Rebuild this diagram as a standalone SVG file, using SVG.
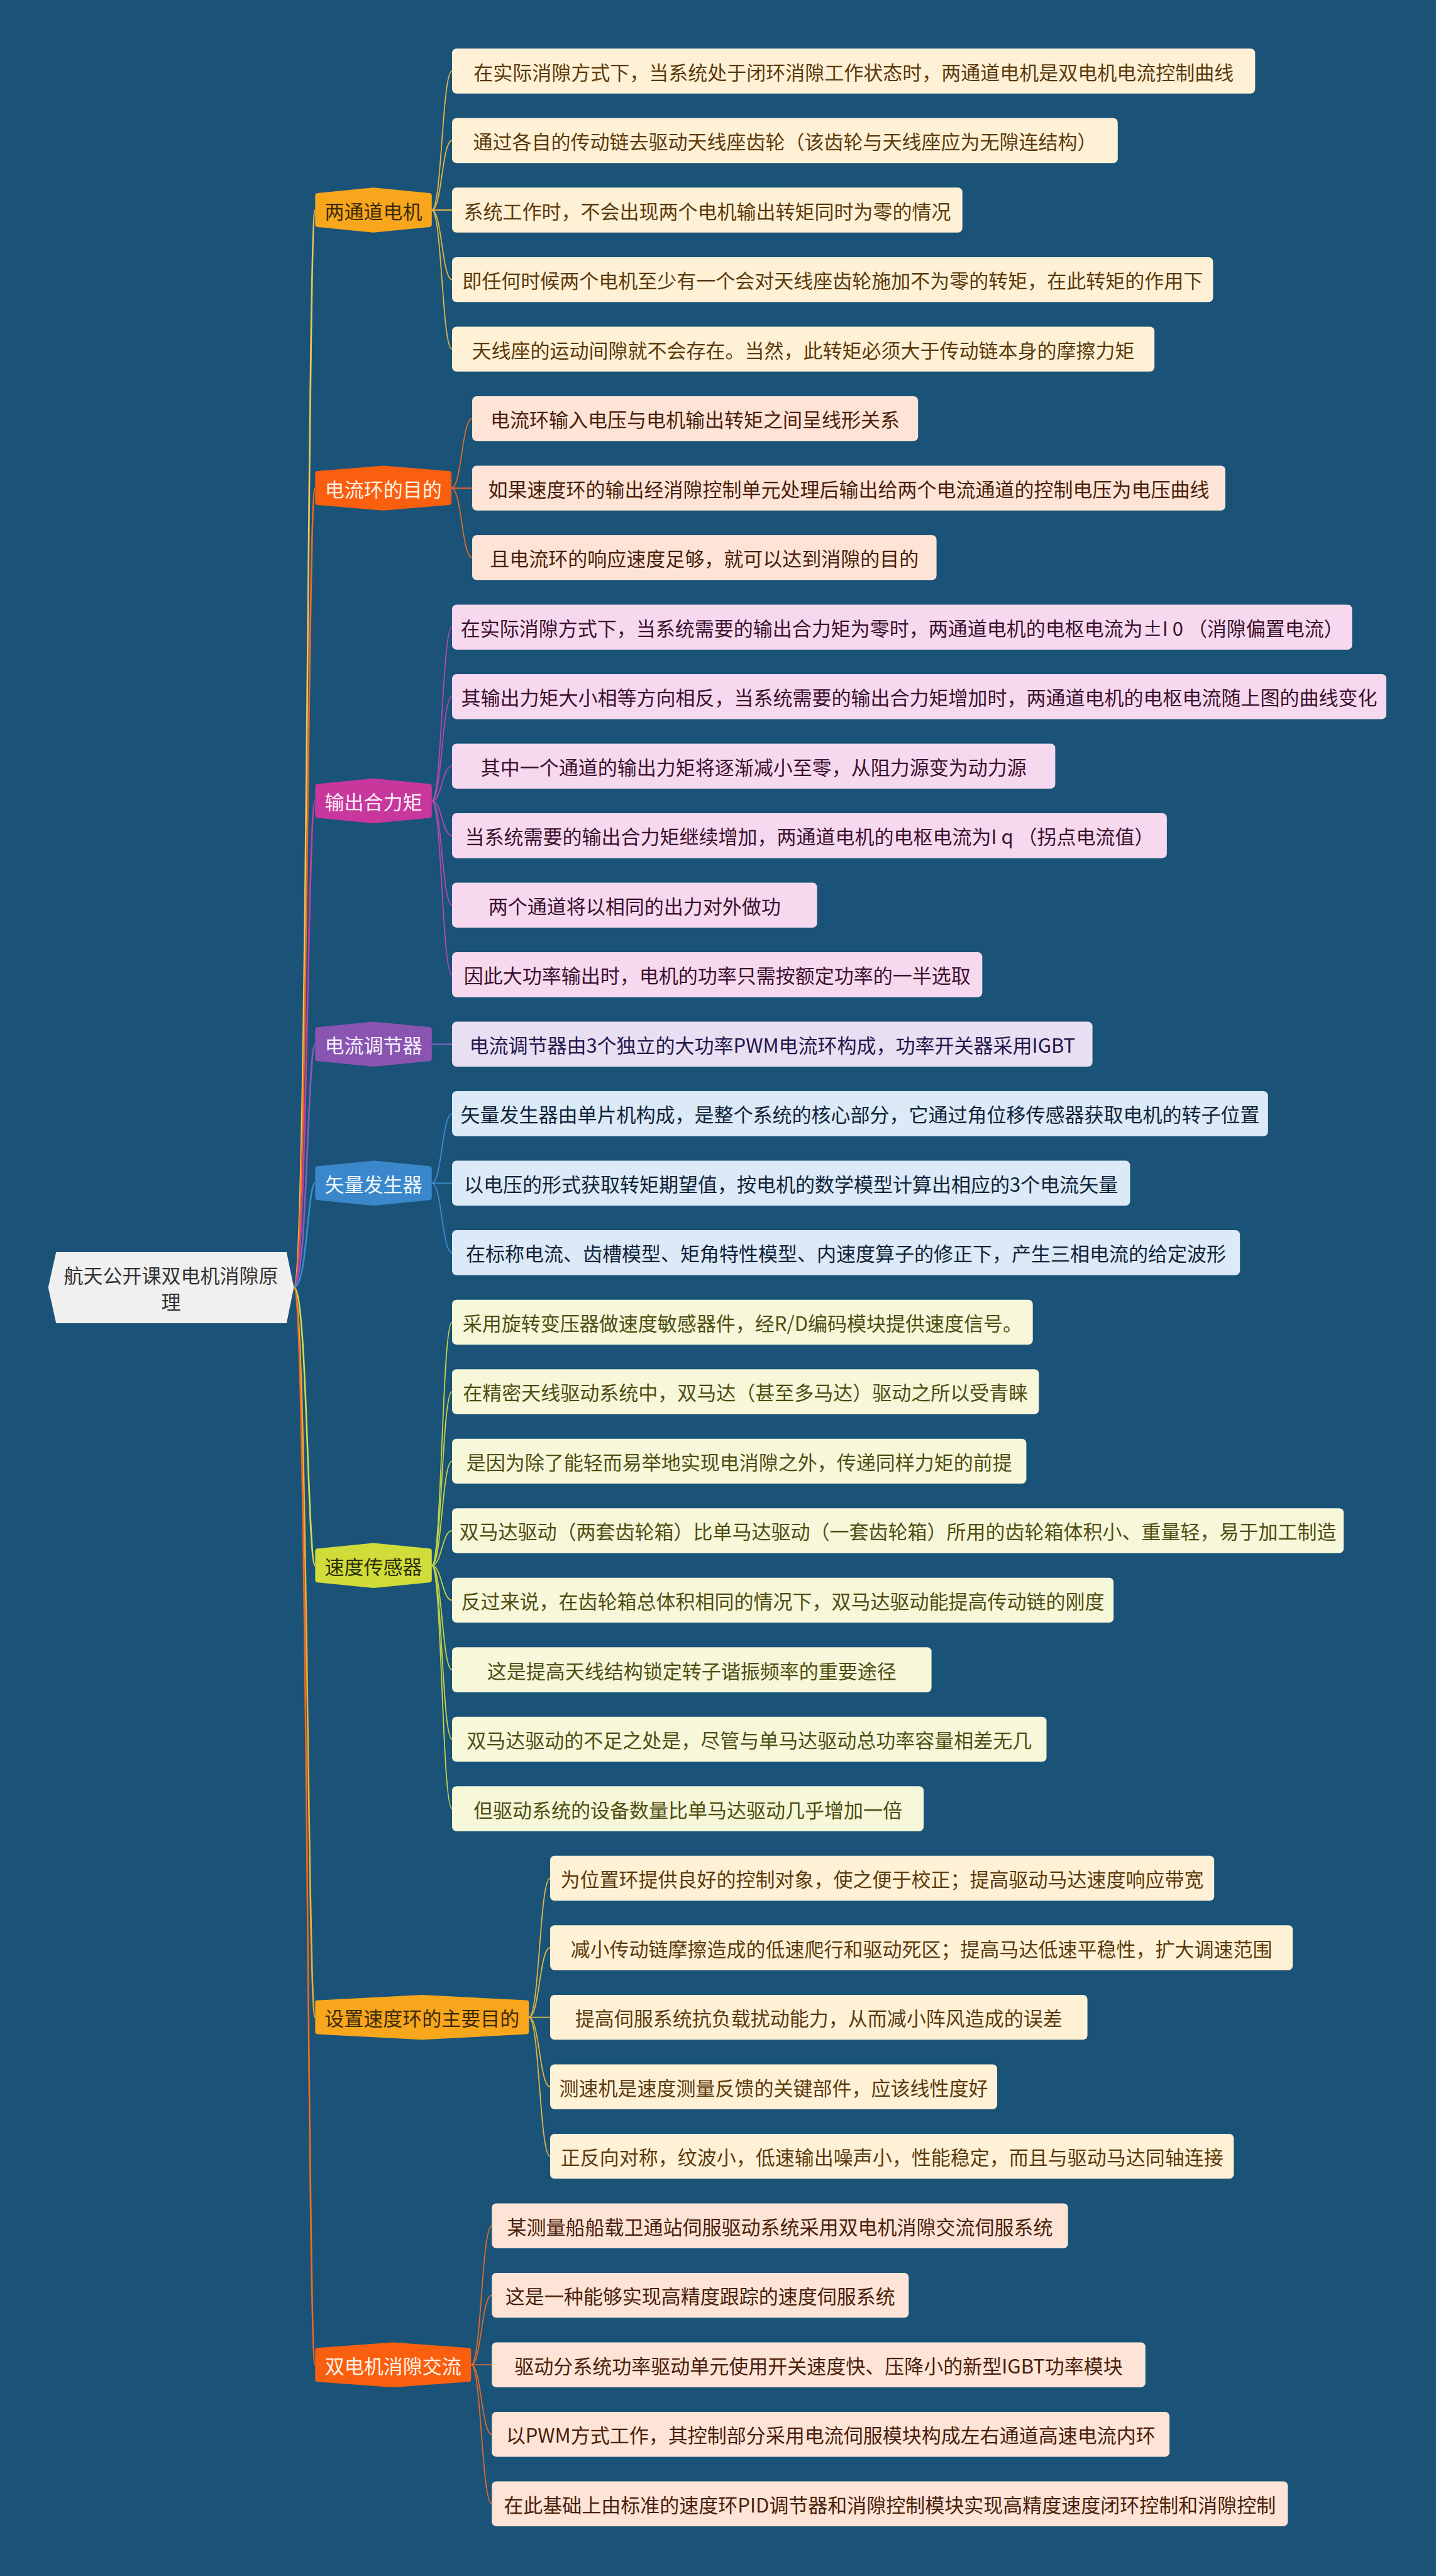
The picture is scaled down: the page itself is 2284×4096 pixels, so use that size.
<svg xmlns="http://www.w3.org/2000/svg" width="2284" height="4096" viewBox="0 0 2284 4096">
<style>
.t{font-family:"Noto Sans CJK SC","Noto Sans",sans-serif;font-size:31px;dominant-baseline:central;text-anchor:middle}
.nd{stroke-width:8;stroke-linejoin:round}
.c{fill:none}
.m{stroke-width:2.6}
.l{stroke-width:1.8}
.g1 .lf{fill:#fff1d6}.g1 .lt{fill:#5c3a0c}
.g2 .lf{fill:#fde4d6}.g2 .lt{fill:#4a1e0a}
.g3 .lf{fill:#f6d9ee}.g3 .lt{fill:#3c0f2e}
.g4 .lf{fill:#e8dff2}.g4 .lt{fill:#24164a}
.g5 .lf{fill:#dce9f6}.g5 .lt{fill:#0f2238}
.g6 .lf{fill:#f7f7da}.g6 .lt{fill:#4e4e12}
</style>
<rect width="2284" height="4096" fill="#1a5377"/>

<g id="connectors" class="c">
  <!-- root to main nodes -->
  <path class="m" stroke="#efc45a" d="M467.4 2047 C489 2047 489 334 501.3 334"/>
  <path class="m" stroke="#f06a20" d="M467.4 2047 C489 2047 489 776.1 501.3 776.1"/>
  <path class="m" stroke="#c040a0" d="M467.4 2047 C489 2047 489 1273.5 501.3 1273.5"/>
  <path class="m" stroke="#8a5cb8" d="M467.4 2047 C489 2047 489 1660.3 501.3 1660.3"/>
  <path class="m" stroke="#3a8ad0" d="M467.4 2047 C489 2047 489 1881.3 501.3 1881.3"/>
  <path class="m" stroke="#d0dc50" d="M467.4 2047 C489 2047 489 2489.2 501.3 2489.2"/>
  <path class="m" stroke="#f0b030" d="M467.4 2047 C489 2047 489 3207.6 501.3 3207.6"/>
  <path class="m" stroke="#f06a20" d="M467.4 2047 C489 2047 489 3760.2 501.3 3760.2"/>
  <!-- G1 -->
  <g class="l" stroke="#e0b445">
    <path d="M686.8 334 C702.9 334 702.9 113 719 113"/>
    <path d="M686.8 334 C702.9 334 702.9 223.5 719 223.5"/>
    <path d="M686.8 334 L719 334"/>
    <path d="M686.8 334 C702.9 334 702.9 444.6 719 444.6"/>
    <path d="M686.8 334 C702.9 334 702.9 555.1 719 555.1"/>
  </g>
  <!-- G2 -->
  <g class="l" stroke="#e06a2a">
    <path d="M718 776.1 C734.5 776.1 734.5 665.6 751 665.6"/>
    <path d="M718 776.1 L751 776.1"/>
    <path d="M718 776.1 C734.5 776.1 734.5 886.6 751 886.6"/>
  </g>
  <!-- G3 -->
  <g class="l" stroke="#b449b0">
    <path d="M686.8 1273.5 C702.9 1273.5 702.9 997.2 719 997.2"/>
    <path d="M686.8 1273.5 C702.9 1273.5 702.9 1107.7 719 1107.7"/>
    <path d="M686.8 1273.5 C702.9 1273.5 702.9 1218.2 719 1218.2"/>
    <path d="M686.8 1273.5 C702.9 1273.5 702.9 1328.7 719 1328.7"/>
    <path d="M686.8 1273.5 C702.9 1273.5 702.9 1439.2 719 1439.2"/>
    <path d="M686.8 1273.5 C702.9 1273.5 702.9 1549.8 719 1549.8"/>
  </g>
  <!-- G4 -->
  <g class="l" stroke="#8f66c4">
    <path d="M686.8 1660.3 L719 1660.3"/>
  </g>
  <!-- G5 -->
  <g class="l" stroke="#3d8bd0">
    <path d="M686.8 1881.3 C702.9 1881.3 702.9 1770.8 719 1770.8"/>
    <path d="M686.8 1881.3 L719 1881.3"/>
    <path d="M686.8 1881.3 C702.9 1881.3 702.9 1991.8 719 1991.8"/>
  </g>
  <!-- G6 -->
  <g class="l" stroke="#c5d445">
    <path d="M686.8 2489.2 C702.9 2489.2 702.9 2102.4 719 2102.4"/>
    <path d="M686.8 2489.2 C702.9 2489.2 702.9 2212.9 719 2212.9"/>
    <path d="M686.8 2489.2 C702.9 2489.2 702.9 2323.4 719 2323.4"/>
    <path d="M686.8 2489.2 C702.9 2489.2 702.9 2433.9 719 2433.9"/>
    <path d="M686.8 2489.2 C702.9 2489.2 702.9 2544.4 719 2544.4"/>
    <path d="M686.8 2489.2 C702.9 2489.2 702.9 2655 719 2655"/>
    <path d="M686.8 2489.2 C702.9 2489.2 702.9 2765.5 719 2765.5"/>
    <path d="M686.8 2489.2 C702.9 2489.2 702.9 2876 719 2876"/>
  </g>
  <!-- G7 -->
  <g class="l" stroke="#e0b445">
    <path d="M841.2 3207.6 C858.1 3207.6 858.1 2986.5 875 2986.5"/>
    <path d="M841.2 3207.6 C858.1 3207.6 858.1 3097 875 3097"/>
    <path d="M841.2 3207.6 L875 3207.6"/>
    <path d="M841.2 3207.6 C858.1 3207.6 858.1 3318.1 875 3318.1"/>
    <path d="M841.2 3207.6 C858.1 3207.6 858.1 3428.6 875 3428.6"/>
  </g>
  <!-- G8 -->
  <g class="l" stroke="#e06a2a">
    <path d="M749.3 3760.2 C765.8 3760.2 765.8 3539.1 782.3 3539.1"/>
    <path d="M749.3 3760.2 C765.8 3760.2 765.8 3649.6 782.3 3649.6"/>
    <path d="M749.3 3760.2 L782.3 3760.2"/>
    <path d="M749.3 3760.2 C765.8 3760.2 765.8 3870.7 782.3 3870.7"/>
    <path d="M749.3 3760.2 C765.8 3760.2 765.8 3981.2 782.3 3981.2"/>
  </g>
</g>

<g id="root">
  <polygon points="76.7,2047 89.2,1991 455.8,1991 467.4,2047 455.8,2104 89.2,2104" fill="#f0f0f0"/>
  <text class="t" x="272" y="2026" fill="#333">航天公开课双电机消隙原</text>
  <text class="t" x="272" y="2068" fill="#333">理</text>
</g>

<!-- main nodes -->
<g id="n1">
  <polygon class="nd" fill="#f8a61c" stroke="#f8a61c" points="505.3,311 594,302.3 682.8,311 682.8,357 594,365.7 505.3,357"/>
  <text class="t" x="594" y="334" fill="#3b2a0a">两通道电机</text>
</g>
<g id="n2">
  <polygon class="nd" fill="#fa5f0f" stroke="#fa5f0f" points="505.3,753.1 609.7,744.4 714,753.1 714,799.1 609.7,807.8 505.3,799.1"/>
  <text class="t" x="609.7" y="776.1" fill="#fff4e8">电流环的目的</text>
</g>
<g id="n3">
  <polygon class="nd" fill="#c8379b" stroke="#c8379b" points="505.3,1250.5 594,1241.8 682.8,1250.5 682.8,1296.5 594,1305.2 505.3,1296.5"/>
  <text class="t" x="594" y="1273.5" fill="#fff0fa">输出合力矩</text>
</g>
<g id="n4">
  <polygon class="nd" fill="#8a55b0" stroke="#8a55b0" points="505.3,1637.3 594,1628.6 682.8,1637.3 682.8,1683.3 594,1692 505.3,1683.3"/>
  <text class="t" x="594" y="1660.3" fill="#f6f0ff">电流调节器</text>
</g>
<g id="n5">
  <polygon class="nd" fill="#3a87cb" stroke="#3a87cb" points="505.3,1858.3 594,1849.6 682.8,1858.3 682.8,1904.3 594,1913 505.3,1904.3"/>
  <text class="t" x="594" y="1881.3" fill="#f0f8ff">矢量发生器</text>
</g>
<g id="n6">
  <polygon class="nd" fill="#cfdc3a" stroke="#cfdc3a" points="505.3,2466.2 594,2457.5 682.8,2466.2 682.8,2512.2 594,2520.9 505.3,2512.2"/>
  <text class="t" x="594" y="2489.2" fill="#2e3008">速度传感器</text>
</g>
<g id="n7">
  <polygon class="nd" fill="#f8a61c" stroke="#f8a61c" points="505.3,3184.6 671.3,3175.9 837.2,3184.6 837.2,3230.6 671.3,3239.3 505.3,3230.6"/>
  <text class="t" x="671.3" y="3207.6" fill="#3b2a0a">设置速度环的主要目的</text>
</g>
<g id="n8">
  <polygon class="nd" fill="#fa5f0f" stroke="#fa5f0f" points="505.3,3737.2 625.3,3728.5 745.3,3737.2 745.3,3783.2 625.3,3791.9 505.3,3783.2"/>
  <text class="t" x="625.3" y="3760.2" fill="#fff4e8">双电机消隙交流</text>
</g>

<!-- leaves G1 -->
<g class="g1">
  <g id="l1a"><rect class="lf" x="719" y="77.3" width="1277.3" height="71.4" rx="7"/><text class="t lt" x="1357.7" y="113">在实际消隙方式下，当系统处于闭环消隙工作状态时，两通道电机是双电机电流控制曲线</text></g>
  <g id="l1b"><rect class="lf" x="719" y="187.8" width="1058.8" height="71.4" rx="7"/><text class="t lt" x="1248.4" y="223.5">通过各自的传动链去驱动天线座齿轮（该齿轮与天线座应为无隙连结构）</text></g>
  <g id="l1c"><rect class="lf" x="719" y="298.3" width="811.7" height="71.4" rx="7"/><text class="t lt" x="1124.9" y="334">系统工作时，不会出现两个电机输出转矩同时为零的情况</text></g>
  <g id="l1d"><rect class="lf" x="719" y="408.9" width="1210.4" height="71.4" rx="7"/><text class="t lt" x="1324.2" y="444.6">即任何时候两个电机至少有一个会对天线座齿轮施加不为零的转矩，在此转矩的作用下</text></g>
  <g id="l1e"><rect class="lf" x="719" y="519.4" width="1117.2" height="71.4" rx="7"/><text class="t lt" x="1277.6" y="555.1">天线座的运动间隙就不会存在。当然，此转矩必须大于传动链本身的摩擦力矩</text></g>
</g>
<!-- G2 -->
<g class="g2">
  <g id="l2a"><rect class="lf" x="751" y="629.9" width="709.2" height="71.4" rx="7"/><text class="t lt" x="1105.6" y="665.6">电流环输入电压与电机输出转矩之间呈线形关系</text></g>
  <g id="l2b"><rect class="lf" x="751" y="740.4" width="1198" height="71.4" rx="7"/><text class="t lt" x="1350" y="776.1">如果速度环的输出经消隙控制单元处理后输出给两个电流通道的控制电压为电压曲线</text></g>
  <g id="l2c"><rect class="lf" x="751" y="850.9" width="738.6" height="71.4" rx="7"/><text class="t lt" x="1120.3" y="886.6">且电流环的响应速度足够，就可以达到消隙的目的</text></g>
</g>
<!-- G3 -->
<g class="g3">
  <g id="l3a"><rect class="lf" x="719" y="961.5" width="1431.6" height="71.4" rx="7"/><text class="t lt" x="1434.8" y="997.2">在实际消隙方式下，当系统需要的输出合力矩为零时，两通道电机的电枢电流为±I 0 （消隙偏置电流）</text></g>
  <g id="l3b"><rect class="lf" x="719" y="1072" width="1486" height="71.4" rx="7"/><text class="t lt" x="1462" y="1107.7">其输出力矩大小相等方向相反，当系统需要的输出合力矩增加时，两通道电机的电枢电流随上图的曲线变化</text></g>
  <g id="l3c"><rect class="lf" x="719" y="1182.5" width="959.4" height="71.4" rx="7"/><text class="t lt" x="1198.7" y="1218.2">其中一个通道的输出力矩将逐渐减小至零，从阻力源变为动力源</text></g>
  <g id="l3d"><rect class="lf" x="719" y="1293" width="1136.9" height="71.4" rx="7"/><text class="t lt" x="1287.5" y="1328.7">当系统需要的输出合力矩继续增加，两通道电机的电枢电流为I q （拐点电流值）</text></g>
  <g id="l3e"><rect class="lf" x="719" y="1403.5" width="580.6" height="71.4" rx="7"/><text class="t lt" x="1009.3" y="1439.2">两个通道将以相同的出力对外做功</text></g>
  <g id="l3f"><rect class="lf" x="719" y="1514.1" width="843.3" height="71.4" rx="7"/><text class="t lt" x="1140.7" y="1549.8">因此大功率输出时，电机的功率只需按额定功率的一半选取</text></g>
</g>
<!-- G4 -->
<g class="g4">
  <g id="l4a"><rect class="lf" x="719" y="1624.6" width="1018.6" height="71.4" rx="7"/><text class="t lt" x="1228.3" y="1660.3">电流调节器由3个独立的大功率PWM电流环构成，功率开关器采用IGBT</text></g>
</g>
<!-- G5 -->
<g class="g5">
  <g id="l5a"><rect class="lf" x="719" y="1735.1" width="1297.8" height="71.4" rx="7"/><text class="t lt" x="1367.9" y="1770.8">矢量发生器由单片机构成，是整个系统的核心部分，它通过角位移传感器获取电机的转子位置</text></g>
  <g id="l5b"><rect class="lf" x="719" y="1845.6" width="1078.4" height="71.4" rx="7"/><text class="t lt" x="1258.2" y="1881.3">以电压的形式获取转矩期望值，按电机的数学模型计算出相应的3个电流矢量</text></g>
  <g id="l5c"><rect class="lf" x="719" y="1956.1" width="1253.2" height="71.4" rx="7"/><text class="t lt" x="1345.6" y="1991.8">在标称电流、齿槽模型、矩角特性模型、内速度算子的修正下，产生三相电流的给定波形</text></g>
</g>
<!-- G6 -->
<g class="g6">
  <g id="l6a"><rect class="lf" x="719" y="2066.7" width="923.7" height="71.4" rx="7"/><text class="t lt" x="1180.9" y="2102.4">采用旋转变压器做速度敏感器件，经R/D编码模块提供速度信号。</text></g>
  <g id="l6b"><rect class="lf" x="719" y="2177.2" width="933.4" height="71.4" rx="7"/><text class="t lt" x="1185.7" y="2212.9">在精密天线驱动系统中，双马达（甚至多马达）驱动之所以受青睐</text></g>
  <g id="l6c"><rect class="lf" x="719" y="2287.7" width="913.4" height="71.4" rx="7"/><text class="t lt" x="1175.7" y="2323.4">是因为除了能轻而易举地实现电消隙之外，传递同样力矩的前提</text></g>
  <g id="l6d"><rect class="lf" x="719" y="2398.2" width="1418.2" height="71.4" rx="7"/><text class="t lt" x="1428.1" y="2433.9">双马达驱动（两套齿轮箱）比单马达驱动（一套齿轮箱）所用的齿轮箱体积小、重量轻，易于加工制造</text></g>
  <g id="l6e"><rect class="lf" x="719" y="2508.7" width="1052.2" height="71.4" rx="7"/><text class="t lt" x="1245.1" y="2544.4">反过来说，在齿轮箱总体积相同的情况下，双马达驱动能提高传动链的刚度</text></g>
  <g id="l6f"><rect class="lf" x="719" y="2619.3" width="762.6" height="71.4" rx="7"/><text class="t lt" x="1100.3" y="2655">这是提高天线结构锁定转子谐振频率的重要途径</text></g>
  <g id="l6g"><rect class="lf" x="719" y="2729.8" width="945.5" height="71.4" rx="7"/><text class="t lt" x="1191.8" y="2765.5">双马达驱动的不足之处是，尽管与单马达驱动总功率容量相差无几</text></g>
  <g id="l6h"><rect class="lf" x="719" y="2840.3" width="750.1" height="71.4" rx="7"/><text class="t lt" x="1094.1" y="2876">但驱动系统的设备数量比单马达驱动几乎增加一倍</text></g>
</g>
<!-- G7 -->
<g class="g1">
  <g id="l7a"><rect class="lf" x="875" y="2950.8" width="1056.2" height="71.4" rx="7"/><text class="t lt" x="1403.1" y="2986.5">为位置环提供良好的控制对象，使之便于校正；提高驱动马达速度响应带宽</text></g>
  <g id="l7b"><rect class="lf" x="875" y="3061.3" width="1181.1" height="71.4" rx="7"/><text class="t lt" x="1465.6" y="3097">减小传动链摩擦造成的低速爬行和驱动死区；提高马达低速平稳性，扩大调速范围</text></g>
  <g id="l7c"><rect class="lf" x="875" y="3171.9" width="854.6" height="71.4" rx="7"/><text class="t lt" x="1302.3" y="3207.6">提高伺服系统抗负载扰动能力，从而减小阵风造成的误差</text></g>
  <g id="l7d"><rect class="lf" x="875" y="3282.4" width="711" height="71.4" rx="7"/><text class="t lt" x="1230.5" y="3318.1">测速机是速度测量反馈的关键部件，应该线性度好</text></g>
  <g id="l7e"><rect class="lf" x="875" y="3392.9" width="1087.4" height="71.4" rx="7"/><text class="t lt" x="1418.7" y="3428.6">正反向对称，纹波小，低速输出噪声小，性能稳定，而且与驱动马达同轴连接</text></g>
</g>
<!-- G8 -->
<g class="g2">
  <g id="l8a"><rect class="lf" x="782.3" y="3503.4" width="916.4" height="71.4" rx="7"/><text class="t lt" x="1240.5" y="3539.1">某测量船船载卫通站伺服驱动系统采用双电机消隙交流伺服系统</text></g>
  <g id="l8b"><rect class="lf" x="782.3" y="3613.9" width="663" height="71.4" rx="7"/><text class="t lt" x="1113.8" y="3649.6">这是一种能够实现高精度跟踪的速度伺服系统</text></g>
  <g id="l8c"><rect class="lf" x="782.3" y="3724.5" width="1039.5" height="71.4" rx="7"/><text class="t lt" x="1302" y="3760.2">驱动分系统功率驱动单元使用开关速度快、压降小的新型IGBT功率模块</text></g>
  <g id="l8d"><rect class="lf" x="782.3" y="3835" width="1077.8" height="71.4" rx="7"/><text class="t lt" x="1321.2" y="3870.7">以PWM方式工作，其控制部分采用电流伺服模块构成左右通道高速电流内环</text></g>
  <g id="l8e"><rect class="lf" x="782.3" y="3945.5" width="1266" height="71.4" rx="7"/><text class="t lt" x="1415.3" y="3981.2">在此基础上由标准的速度环PID调节器和消隙控制模块实现高精度速度闭环控制和消隙控制</text></g>
</g>
</svg>
